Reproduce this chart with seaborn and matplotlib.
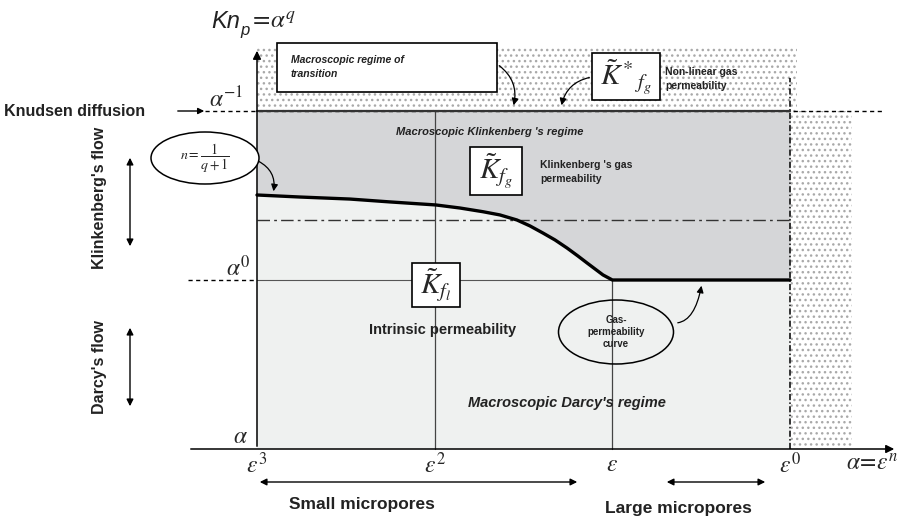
import matplotlib
matplotlib.use("Agg")
import matplotlib.pyplot as plt
from matplotlib.patches import Rectangle, Ellipse
import numpy as np
import pandas as pd
import seaborn as sns

sns.set_theme(style="white")
plt.rcParams['font.family'] = ['Liberation Sans', 'DejaVu Sans']
plt.rcParams['mathtext.fontset'] = 'stix'
plt.rcParams['hatch.color'] = '#a9a9a9'
plt.rcParams['hatch.linewidth'] = 1.0

# pore-scale levels on the horizontal axis (eps^3 ... eps^0)
eps_pos = [0, 1, 2, 3]
eps_labels = [r"$\varepsilon^3$", r"$\varepsilon^2$", r"$\varepsilon$", r"$\varepsilon^0$"]
# Knudsen-number levels on the vertical axis
alpha_pos = [-1, 0, 1]
alpha_labels = [r"$\alpha$", r"$\alpha^0$", r"$\alpha^{-1}$"]
# gas-permeability curve
curve_x = [0.0, 0.242, 0.523, 0.748, 1.007, 1.142, 1.272, 1.367, 1.463, 1.536,
           1.609, 1.677, 1.745, 1.806, 1.857, 1.947, 2.0, 3.0]
curve_y = [0.503, 0.491, 0.479, 0.462, 0.444, 0.426, 0.404, 0.385, 0.355, 0.320,
           0.278, 0.237, 0.189, 0.142, 0.101, 0.030, 0.0, 0.0]
klink_limit = 0.355

df = pd.DataFrame({"x": curve_x, "y": curve_y})


def P(px, py):
    # layout helper: reference pixel -> diagram units
    return ((px - 257) / 177.7, (280 - py) / 169.0)


fig = plt.figure(figsize=(9.21, 5.18), dpi=100)
ax = fig.add_axes([0, 0, 1, 1])
x0, y0 = P(0, 518)
x1, y1 = P(921, 0)
ax.set_xlim(x0, x1)
ax.set_ylim(y0, y1)
ax.axis("off")

# regions
ax.fill_between(curve_x, alpha_pos[0], curve_y, color="#eff1f0", lw=0, zorder=1)
ax.fill_between(curve_x, curve_y, alpha_pos[2], color="#d5d6d8", lw=0, zorder=1)
top = P(0, 48)[1]
ax.fill_between([eps_pos[0], P(797, 0)[0]], alpha_pos[2], top, facecolor="white",
                edgecolor="#a9a9a9", hatch="...", lw=0, zorder=0.5)
ax.fill_between([eps_pos[3], P(852, 0)[0]], alpha_pos[0], alpha_pos[2], facecolor="white",
                edgecolor="#a9a9a9", hatch="...", lw=0, zorder=0.5)

# level lines
ax.plot([P(205, 0)[0], P(883, 0)[0]], [alpha_pos[2]] * 2, ls=(0, (3, 2.5)), color="black", lw=1, zorder=2)
ax.plot([eps_pos[0], eps_pos[3]], [alpha_pos[2]] * 2, color="#333333", lw=1.6, zorder=3)
ax.plot([P(188, 0)[0], eps_pos[0]], [alpha_pos[1]] * 2, ls=(0, (3, 2.5)), color="black", lw=1, zorder=2)
ax.plot([eps_pos[0], eps_pos[2]], [alpha_pos[1]] * 2, color="#555555", lw=0.8, zorder=2)
ax.plot([eps_pos[0], eps_pos[3]], [klink_limit] * 2, ls=(0, (9, 3, 2, 3)), color="#333333", lw=1, zorder=2)
ax.plot([eps_pos[1]] * 2, [alpha_pos[0], alpha_pos[2]], color="#444444", lw=0.9, zorder=2)
ax.plot([eps_pos[2]] * 2, [alpha_pos[0], alpha_pos[1]], color="#444444", lw=0.9, zorder=2)
ax.plot([eps_pos[3]] * 2, [alpha_pos[0], P(0, 78)[1]], ls=(0, (4, 1.5, 1, 1.5)), color="black", lw=1.1, zorder=2)

sns.lineplot(data=df, x="x", y="y", color="black", lw=2.4, ax=ax, sort=False, zorder=4)
ax.axis("off")

# axes arrows
arr = dict(arrowstyle="-|>", color="black", lw=1.1, mutation_scale=12)
ax.annotate("", xy=(eps_pos[0], top), xytext=(eps_pos[0], alpha_pos[0]), arrowprops=arr, zorder=5)
ax.annotate("", xy=(P(897, 0)[0], alpha_pos[0]), xytext=(P(188, 0)[0], alpha_pos[0]), arrowprops=arr, zorder=5)

# tick labels
for xp, lab in zip(eps_pos, eps_labels):
    ax.text(xp, P(0, 465)[1], lab, fontsize=17, ha="center", va="center")
ax.text(*P(872, 465), r"$\alpha\!=\!\varepsilon^n$", fontsize=17, ha="center", va="center")
for (px, py), lab in zip([(240, 437), (238, 268), (226, 100)], alpha_labels):
    ax.text(*P(px, py), lab, fontsize=17, ha="center", va="center")
ax.text(*P(240, 22), "Kn", fontsize=17, style="italic", ha="right", va="center", color="#222222")
ax.text(*P(240, 30), "p", fontsize=12, style="italic", ha="left", va="center", color="#222222")
ax.text(*P(249, 22), r"$=\!\alpha^q$", fontsize=18, ha="left", va="center")

bold = dict(fontweight="bold", color="#222222")
ax.text(*P(4, 111), "Knudsen diffusion", fontsize=11.5, ha="left", va="center", **bold)
ax.annotate("", xy=P(207, 111), xytext=P(175, 111), arrowprops=dict(arrowstyle="-|>", color="black", lw=1, mutation_scale=9))
ax.text(*P(100, 198), "Klinkenberg's flow", fontsize=11.5, rotation=90, ha="center", va="center", **bold)
ax.text(*P(100, 367), "Darcy's flow", fontsize=11.5, rotation=90, ha="center", va="center", **bold)
dbl = dict(arrowstyle="<|-|>", color="black", lw=1, mutation_scale=10)
ax.annotate("", xy=P(130, 155), xytext=P(130, 249), arrowprops=dbl)
ax.annotate("", xy=P(130, 325), xytext=P(130, 409), arrowprops=dbl)
ax.annotate("", xy=P(257, 482), xytext=P(580, 482), arrowprops=dbl)
ax.annotate("", xy=P(664, 482), xytext=P(768, 482), arrowprops=dbl)
ax.text(*P(362, 505), "Small micropores", fontsize=12.5, ha="center", va="center", **bold)
ax.text(*P(678, 508), "Large micropores", fontsize=12.5, ha="center", va="center", **bold)


def box(px0, py0, px1, py1):
    xa, ya = P(px0, py1)
    xb, yb = P(px1, py0)
    ax.add_patch(Rectangle((xa, ya), xb - xa, yb - ya, facecolor="white", edgecolor="black", lw=1.2, zorder=6))


# transition box
box(277, 43, 497, 92)
ax.text(*P(291, 67), "Macroscopic regime of\ntransition", fontsize=7.5, style="italic", ha="left",
        va="center", linespacing=1.5, zorder=7, **bold)
curv = dict(arrowstyle="-|>", color="black", lw=0.9, mutation_scale=10)
ax.annotate("", xy=P(513, 108), xytext=P(497, 64), arrowprops=dict(connectionstyle="arc3,rad=-0.35", **curv), zorder=7)

# non-linear gas permeability
box(592, 53, 660, 100)
ax.text(*P(626, 77), r"$\tilde{K}^*{}_{f_g}$", fontsize=21, ha="center", va="center", zorder=7)
ax.text(*P(665, 79), "Non-linear gas\npermeability", fontsize=7.5, ha="left", va="center", linespacing=1.5, **bold)
ax.annotate("", xy=P(561, 108), xytext=P(592, 77), arrowprops=dict(connectionstyle="arc3,rad=0.35", **curv), zorder=7)

# Klinkenberg regime
ax.text(*P(490, 132), "Macroscopic Klinkenberg 's regime", fontsize=8, style="italic", ha="center", va="center", zorder=7, **bold)
box(470, 147, 522, 195)
ax.text(*P(496, 171), r"$\tilde{K}_{f_g}$", fontsize=21, ha="center", va="center", zorder=7)
ax.text(*P(540, 172), "Klinkenberg 's gas\npermeability", fontsize=7.5, ha="left", va="center", linespacing=1.5, **bold)

# n ellipse
c = P(205, 158)
ax.add_patch(Ellipse(c, 108 / 177.7, 52 / 169.0, facecolor="white", edgecolor="black", lw=1.1, zorder=6))
ax.text(*c, r"$n=\dfrac{1}{q+1}$", fontsize=10, ha="center", va="center", zorder=7)
ax.annotate("", xy=P(273, 194), xytext=P(256, 160), arrowprops=dict(connectionstyle="arc3,rad=-0.4", **curv), zorder=7)

# intrinsic permeability
box(412, 263, 460, 307)
ax.text(*P(436, 285), r"$\tilde{K}_{f_l}$", fontsize=21, ha="center", va="center", zorder=7)
ax.text(*P(443, 330), "Intrinsic permeability", fontsize=10.5, ha="center", va="center", zorder=7, **bold)

# gas-permeability curve ellipse
c = P(616, 332)
ax.add_patch(Ellipse(c, 115 / 177.7, 64 / 169.0, facecolor="none", edgecolor="black", lw=1.1, zorder=6))
ax.text(*c, "Gas-\npermeability\ncurve", fontsize=7, ha="center", va="center", linespacing=1.2, zorder=7, **bold)
ax.annotate("", xy=P(702, 283), xytext=P(675, 323), arrowprops=dict(connectionstyle="angle3,angleA=0,angleB=80", **curv), zorder=7)

ax.text(*P(567, 403), "Macroscopic Darcy's regime", fontsize=10.5, style="italic", ha="center", va="center", zorder=7, **bold)

fig.savefig("out.png", dpi=100)
